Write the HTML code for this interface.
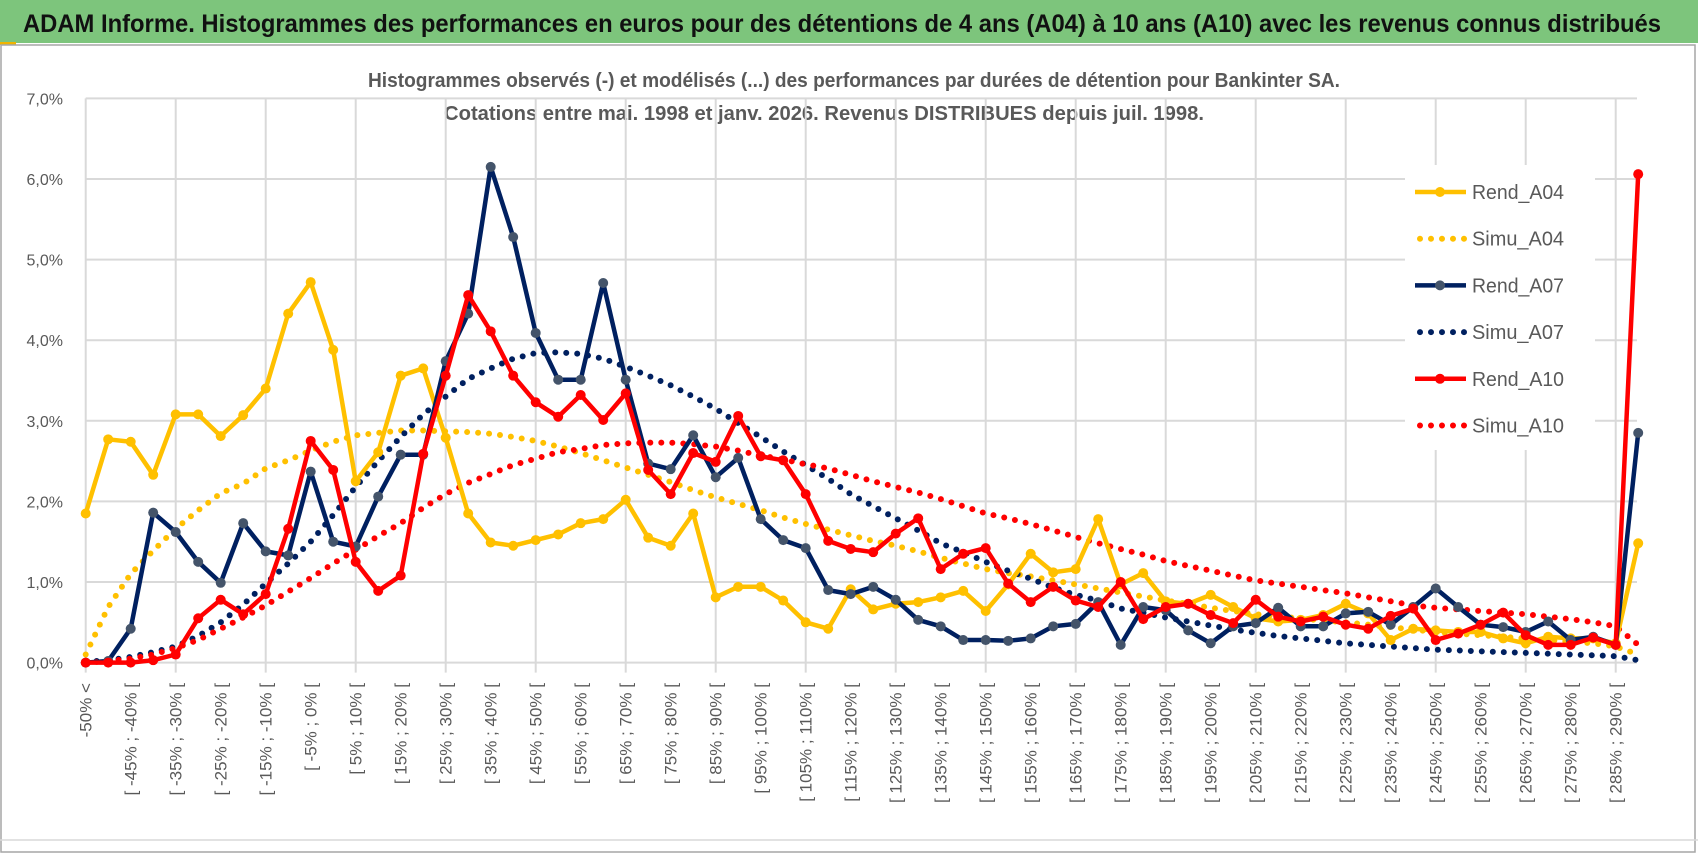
<!DOCTYPE html>
<html><head><meta charset="utf-8"><style>
body{margin:0;background:#fff;}
svg{display:block;font-family:"Liberation Sans",sans-serif;}
</style></head><body>
<svg id="chart" width="1698" height="854" viewBox="0 0 1698 854" xmlns="http://www.w3.org/2000/svg">
<rect x="0" y="0" width="1698" height="854" fill="#fff"/>
<rect x="0" y="0" width="1698" height="43" fill="#7dc57c"/>
<rect x="0" y="42" width="16" height="3" fill="#f0b400"/>
<text x="23" y="32" font-size="25" font-weight="bold" fill="#111" textLength="1638" lengthAdjust="spacingAndGlyphs">ADAM Informe. Histogrammes des performances en euros pour des détentions de 4 ans (A04) à 10 ans (A10) avec les revenus connus distribués</text>
<rect x="1" y="45" width="1694" height="807" fill="none" stroke="#a6a6a6" stroke-width="1.5"/>
<line x1="0" y1="840" x2="1698" y2="840" stroke="#d9d9d9" stroke-width="1.5"/>
<text x="854" y="87" text-anchor="middle" font-size="20" font-weight="bold" fill="#595959" textLength="972" lengthAdjust="spacingAndGlyphs">Histogrammes observés (-) et modélisés (...) des performances par durées de détention pour Bankinter SA.</text>
<text x="824" y="120" text-anchor="middle" font-size="20" font-weight="bold" fill="#595959" textLength="760" lengthAdjust="spacingAndGlyphs">Cotations entre mai. 1998 et janv. 2026. Revenus DISTRIBUES depuis juil. 1998.</text>
<g id="grid"></g>
<g id="yaxis"></g>
<g id="xaxis"></g>
<g id="series"></g>
<g id="legend"></g>
</svg>
<script>
const yTicks = [0,1,2,3,4,5,6,7];
const yTickLabels = ["0,0%","1,0%","2,0%","3,0%","4,0%","5,0%","6,0%","7,0%"];
const categories = ["-50% <"];
for (let b = -50; b < 295; b += 5) categories.push("[ " + b + "% ; " + (b + 5) + "% [");
const rendA04 = [1.85,2.77,2.74,2.33,3.08,3.08,2.81,3.07,3.40,4.33,4.72,3.88,2.25,2.61,3.56,3.65,2.79,1.85,1.49,1.45,1.52,1.59,1.73,1.78,2.02,1.55,1.45,1.85,0.81,0.94,0.94,0.77,0.50,0.42,0.91,0.66,0.73,0.75,0.81,0.89,0.64,0.97,1.35,1.12,1.16,1.78,0.97,1.11,0.76,0.73,0.84,0.69,0.55,0.51,0.53,0.59,0.73,0.61,0.28,0.42,0.40,0.38,0.38,0.30,0.24,0.32,0.30,0.30,0.24,1.48];
const simuA04 = [0.10,0.69,1.10,1.39,1.66,1.89,2.10,2.22,2.41,2.51,2.63,2.74,2.82,2.85,2.88,2.88,2.87,2.86,2.84,2.80,2.75,2.68,2.60,2.51,2.42,2.33,2.24,2.14,2.05,1.97,1.89,1.80,1.72,1.65,1.58,1.51,1.45,1.38,1.30,1.23,1.16,1.11,1.07,1.02,0.97,0.92,0.87,0.82,0.77,0.73,0.68,0.64,0.60,0.57,0.55,0.52,0.50,0.47,0.44,0.41,0.38,0.36,0.34,0.32,0.30,0.28,0.26,0.24,0.20,0.10];
const rendA07 = [0,0.02,0.42,1.86,1.62,1.25,0.99,1.73,1.38,1.33,2.37,1.50,1.44,2.06,2.58,2.58,3.74,4.33,6.15,5.28,4.09,3.51,3.51,4.71,3.51,2.47,2.40,2.82,2.30,2.54,1.78,1.52,1.42,0.90,0.85,0.94,0.78,0.53,0.45,0.28,0.28,0.27,0.30,0.45,0.48,0.75,0.22,0.69,0.65,0.40,0.24,0.45,0.49,0.68,0.45,0.45,0.61,0.63,0.47,0.69,0.92,0.69,0.47,0.44,0.38,0.51,0.28,0.32,0.22,2.85];
const simuA07 = [0.01,0.03,0.07,0.13,0.20,0.33,0.50,0.72,0.98,1.23,1.50,1.83,2.18,2.50,2.80,3.08,3.30,3.52,3.65,3.77,3.84,3.85,3.83,3.77,3.67,3.56,3.44,3.30,3.15,2.97,2.80,2.62,2.45,2.28,2.09,1.94,1.79,1.64,1.48,1.37,1.25,1.14,1.04,0.93,0.84,0.77,0.67,0.62,0.56,0.51,0.46,0.41,0.37,0.33,0.30,0.27,0.24,0.22,0.20,0.18,0.16,0.15,0.14,0.13,0.12,0.11,0.10,0.09,0.08,0.03];
const rendA10 = [0,0,0,0.03,0.10,0.55,0.78,0.60,0.85,1.66,2.75,2.39,1.25,0.89,1.08,2.59,3.56,4.56,4.11,3.56,3.23,3.05,3.32,3.01,3.34,2.39,2.09,2.60,2.49,3.06,2.56,2.51,2.09,1.51,1.41,1.37,1.60,1.79,1.16,1.35,1.42,0.98,0.75,0.94,0.77,0.69,1.00,0.54,0.69,0.73,0.59,0.49,0.78,0.57,0.51,0.57,0.47,0.42,0.58,0.67,0.28,0.36,0.47,0.62,0.34,0.22,0.22,0.31,0.22,6.06];
const simuA10 = [0,0.02,0.05,0.10,0.18,0.28,0.42,0.56,0.71,0.88,1.05,1.23,1.40,1.57,1.73,1.92,2.09,2.23,2.34,2.45,2.53,2.61,2.65,2.70,2.72,2.73,2.73,2.71,2.68,2.63,2.57,2.52,2.46,2.41,2.33,2.25,2.18,2.11,2.03,1.94,1.85,1.79,1.72,1.64,1.56,1.48,1.41,1.34,1.26,1.20,1.14,1.08,1.02,0.98,0.94,0.90,0.86,0.81,0.76,0.71,0.68,0.66,0.64,0.62,0.60,0.57,0.54,0.50,0.45,0.22];

const NS = "http://www.w3.org/2000/svg";
const X0 = 85.7, DX = 22.5, Y0 = 662.6, DY = 80.6, XR = 1637;
const xPos = i => X0 + DX * i;
const yPos = v => Y0 - DY * v;
function mk(tag, attrs, parent) {
  const e = document.createElementNS(NS, tag);
  for (const k in attrs) e.setAttribute(k, attrs[k]);
  parent.appendChild(e);
  return e;
}
const grid = document.getElementById("grid");
yTicks.forEach(t => {
  const l = mk("line", {x1: X0, x2: XR, y1: yPos(t), y2: yPos(t), stroke: "#d9d9d9", "stroke-width": 2}, grid);
  
  
});
for (let k = 0; X0 + 90 * k < XR; k++) {
  const l = mk("line", {x1: X0 + 90 * k, x2: X0 + 90 * k, y1: yPos(7), y2: Y0 + 10, stroke: "#d9d9d9", "stroke-width": 2}, grid);
  
  
}
const yaxis = document.getElementById("yaxis");
yTicks.forEach((t, i) => {
  const tx = mk("text", {x: 63, y: yPos(t) + 6, "text-anchor": "end", "font-size": 16, fill: "#595959"}, yaxis);
  tx.textContent = yTickLabels[i];
  
  
});
const xaxis = document.getElementById("xaxis");
categories.forEach((c, i) => {
  if (i !== 0 && i % 2 !== 0) return;
  const x = xPos(i), y = 683;
  const tx = mk("text", {x: x, y: y, transform: `rotate(-90 ${x} ${y})`, "text-anchor": "end", "font-size": 17, fill: "#595959", dy: 6}, xaxis);
  tx.textContent = c;
  
  
});
const series = document.getElementById("series");
function pts(arr) { return arr.map((v, i) => xPos(i).toFixed(1) + "," + yPos(v).toFixed(1)).join(" "); }
function dotted(arr, color, name) {
  const p = mk("polyline", {points: pts(arr), fill: "none", stroke: color, "stroke-width": 6, "stroke-linecap": "round", "stroke-dasharray": "0 11"}, series);
  
  
}
function solid(arr, color, mcolor, name) {
  const g = mk("g", {}, series);
  
  
  mk("polyline", {points: pts(arr), fill: "none", stroke: color, "stroke-width": 4.5, "stroke-linejoin": "round"}, g);
  arr.forEach((v, i) => {
    const c = mk("circle", {cx: xPos(i), cy: yPos(v), r: 5, fill: mcolor}, g);
    
    
  });
}
dotted(simuA04, "#ffc000", "simu-a04-line");
dotted(simuA07, "#002060", "simu-a07-line");
dotted(simuA10, "#ff0000", "simu-a10-line");
solid(rendA04, "#ffc000", "#ffc000", "rend-a04-line");
solid(rendA07, "#002060", "#44546a", "rend-a07-line");
solid(rendA10, "#ff0000", "#ff0000", "rend-a10-line");

const legend = document.getElementById("legend");
const bg = mk("rect", {x: 1405, y: 165, width: 190, height: 285, fill: "#fff"}, legend);


const legendNames = ["Rend_A04","Simu_A04","Rend_A07","Simu_A07","Rend_A10","Simu_A10"];
const legendColors = ["#ffc000","#ffc000","#002060","#002060","#ff0000","#ff0000"];
const legendMarker = ["#ffc000",null,"#44546a",null,"#ff0000",null];
legendNames.forEach((n, k) => {
  const y = 192 + 46.7 * k;
  const g = mk("g", {}, legend);
  
  
  if (legendMarker[k]) {
    mk("line", {x1: 1415, x2: 1466, y1: y, y2: y, stroke: legendColors[k], "stroke-width": 4.5}, g);
    mk("circle", {cx: 1440, cy: y, r: 5, fill: legendMarker[k]}, g);
  } else {
    mk("line", {x1: 1420, x2: 1466, y1: y, y2: y, stroke: legendColors[k], "stroke-width": 6, "stroke-linecap": "round", "stroke-dasharray": "0 11"}, g);
  }
  const t = mk("text", {x: 1472, y: y + 7, "font-size": 20, fill: "#595959", textLength: 92, lengthAdjust: "spacingAndGlyphs"}, g);
  t.textContent = n;
});
</script>
</body></html>
